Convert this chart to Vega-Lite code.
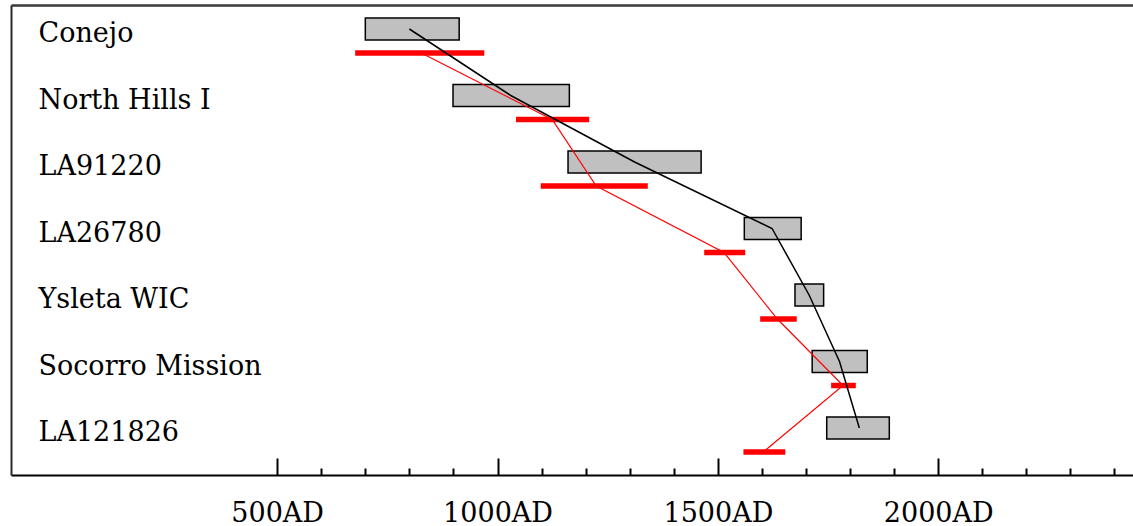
{
  "$schema": "https://vega.github.io/schema/vega-lite/v6.json",
  "autosize": {"type": "none"},
  "padding": {"left": 11, "top": 5, "right": 0, "bottom": 51},
  "width": 1122,
  "height": 470,
  "background": "white",
  "config": {
    "view": {"stroke": null},
    "axis": {"labelFont": "DejaVu Serif", "labelColor": "black", "grid": false, "title": null}
  },
  "data": {
    "values": [
      {"site": "Conejo", "g0": 700, "g1": 913, "gm": 800, "r0": 677, "r1": 970, "rm": 827},
      {"site": "North Hills I", "g0": 899, "g1": 1163, "gm": 1030, "r0": 1042, "r1": 1208, "rm": 1124},
      {"site": "LA91220", "g0": 1160, "g1": 1462, "gm": 1311, "r0": 1098, "r1": 1341, "rm": 1224},
      {"site": "LA26780", "g0": 1560, "g1": 1689, "gm": 1623, "r0": 1469, "r1": 1562, "rm": 1514},
      {"site": "Ysleta WIC", "g0": 1675, "g1": 1740, "gm": 1707, "r0": 1596, "r1": 1679, "rm": 1635},
      {"site": "Socorro Mission", "g0": 1714, "g1": 1839, "gm": 1776, "r0": 1757, "r1": 1813, "rm": 1784},
      {"site": "LA121826", "g0": 1747, "g1": 1889, "gm": 1821, "r0": 1558, "r1": 1653, "rm": 1603}
    ]
  },
  "encoding": {
    "y": {
      "field": "site", "type": "nominal", "sort": null,
      "scale": {"type": "band", "paddingInner": 0, "paddingOuter": 0.0338, "align": 0},
      "axis": {
        "orient": "left", "domain": true, "domainColor": "#2a2a2a", "domainWidth": 2,
        "ticks": false,
        "labelAlign": "left", "labelBaseline": "middle", "labelPadding": -27, "labelOffset": -4.25,
        "labelLimit": 0,
        "labelFontSize": 27, "labelFont": "DejaVu Serif", "labelColor": "black", "title": null
      }
    }
  },
  "layer": [
    {
      "mark": {"type": "bar", "size": 22, "yOffset": -9.25, "fill": "#c0c0c0", "stroke": "black", "strokeWidth": 1.5},
      "encoding": {
        "x": {
          "field": "g0", "type": "quantitative",
          "scale": {"domain": [-104, 2442], "nice": false, "zero": false},
          "axis": {
            "orient": "bottom", "values": [500, 1000, 1500, 2000],
            "tickSize": -17, "tickWidth": 2, "tickColor": "black",
            "domainColor": "black", "domainWidth": 2,
            "labelExpr": "datum.value + 'AD'", "labelFontSize": 27, "labelPadding": 42,
            "labelBaseline": "top", "labelFlush": false, "labelOverlap": false, "title": null
          }
        },
        "x2": {"field": "g1"}
      }
    },
    {
      "mark": {"type": "bar", "size": 5.5, "yOffset": 14.75, "fill": "#ff0000"},
      "encoding": {
        "x": {
          "field": "r0", "type": "quantitative",
          "scale": {"domain": [-104, 2442], "nice": false, "zero": false},
          "axis": {
            "orient": "bottom",
            "values": [600, 700, 800, 900, 1100, 1200, 1300, 1400, 1600, 1700, 1800, 1900, 2100, 2200, 2300, 2400],
            "tickSize": -7, "tickWidth": 2, "tickColor": "black",
            "labels": false, "domain": false, "title": null
          }
        },
        "x2": {"field": "r1"}
      }
    },
    {
      "mark": {"type": "line", "color": "black", "strokeWidth": 1.5, "yOffset": -9.25},
      "encoding": {
        "x": {
          "field": "gm", "type": "quantitative",
          "scale": {"domain": [-104, 2442], "nice": false, "zero": false},
          "axis": {
            "orient": "top", "domain": true, "domainColor": "#3a3a3a", "domainWidth": 2.5,
            "ticks": false, "labels": false, "title": null
          }
        },
        "order": {"field": "g0", "type": "quantitative"}
      }
    },
    {
      "mark": {"type": "line", "color": "#ff0000", "strokeWidth": 1.2, "yOffset": 14.75},
      "encoding": {
        "x": {"field": "rm", "type": "quantitative", "scale": {"domain": [-104, 2442], "nice": false, "zero": false}, "axis": null},
        "order": {"field": "g0", "type": "quantitative"}
      }
    }
  ],
  "resolve": {"axis": {"x": "independent"}}
}
